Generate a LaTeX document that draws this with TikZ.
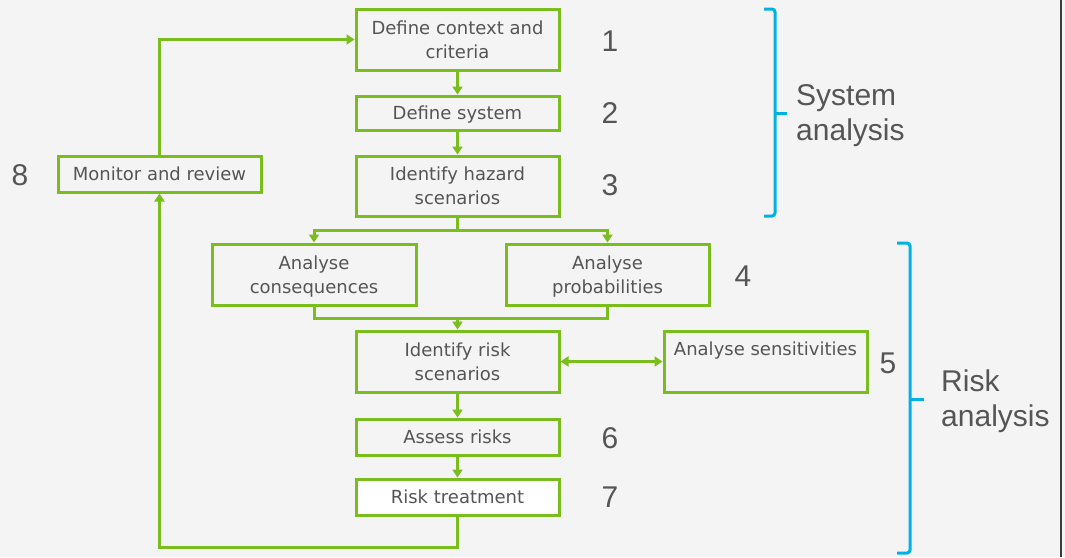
\documentclass[tikz,border=0pt]{standalone}
\usepackage{fontspec}
\setmainfont{Liberation Sans}
\newfontfamily\boxfamily{DejaVu Sans}
\usetikzlibrary{arrows.meta}
\definecolor{grn}{RGB}{122,190,30}
\definecolor{cyn}{RGB}{0,178,228}
\definecolor{bgc}{RGB}{244,244,244}
\definecolor{txt}{RGB}{85,85,85}
\definecolor{edgec}{RGB}{60,60,60}
\tikzset{
  box/.style={draw=grn, line width=3pt, fill=bgc, text=txt, align=center,
    inner sep=0pt, minimum width=203pt, text depth=0pt,
    font=\boxfamily\fontsize{18}{24}\selectfont},
  conn/.style={draw=grn, line width=3pt},
  arr/.style={conn, -{Triangle[width=10pt,length=8pt]}},
  darr/.style={conn, {Triangle[width=10pt,length=8pt]}-{Triangle[width=10pt,length=8pt]}},
  num/.style={text=txt, font=\fontsize{30}{34}\selectfont, inner sep=0pt},
  grp/.style={text=txt, font=\fontsize{30}{35}\selectfont, align=left, inner sep=0pt, anchor=west},
  brace/.style={draw=cyn, line width=3pt, rounded corners=3pt}
}
\begin{document}
\begin{tikzpicture}[x=1pt,y=-1pt]
\fill[bgc] (0,0) rectangle (1065,557);
\useasboundingbox (0,0) rectangle (1065,557);
\draw[edgec, line width=2pt] (1061,0) -- (1061,557);

% boxes
\node[box, minimum height=61pt] (b1) at (457.5,39.5) {Define context and\\criteria};
\node[box, minimum height=34pt] (b2) at (457.5,113) {Define system};
\node[box, minimum height=60pt] (b3) at (457.5,186) {Identify hazard\\scenarios};
\node[box, minimum width=204pt, minimum height=61pt] (cons) at (314,274.5) {Analyse\\consequences};
\node[box, minimum height=61pt] (prob) at (607.5,274.5) {Analyse\\probabilities};
\node[box, minimum height=61pt] (risk) at (457.5,361.5) {Identify risk\\scenarios};
\node[box, minimum height=61pt, text depth=25pt] (sens) at (765.5,361.5) {Analyse sensitivities};
\node[box, minimum height=36pt] (assess) at (457.5,437) {Assess risks};
\node[box, minimum height=36pt, fill=white] (treat) at (457.5,497) {Risk treatment};
\node[box, minimum height=36pt] (mon) at (159.5,174) {Monitor and review};

% connectors
\draw[arr] (b1) -- (b2);
\draw[arr] (b2) -- (b3);
\coordinate (split) at (457.5,230);
\draw[conn] (b3.south) -- (split);
\draw[arr] (split) -| (cons.north);
\draw[arr] (split) -| (prob.north);
\coordinate (merge) at (457.5,318);
\draw[conn] (cons.south) |- (merge) -| (prob.south);
\draw[arr] (merge) -- (risk.north);
\draw[darr] (risk.east) -- (sens.west);
\draw[arr] (risk) -- (assess);
\draw[arr] (assess) -- (treat);
\coordinate (bot) at (457.5,547);
\draw[arr] (treat.south) -- (bot) -| (mon.south);
\draw[arr] (mon.north) |- (b1.west);

% numbers
\node[num] (n1) at (610,41) {1};
\node[num] (n2) at (610,113) {2};
\node[num] (n3) at (610,185) {3};
\node[num] (n4) at (743,276) {4};
\node[num] (n5) at (888,363) {5};
\node[num] (n6) at (610,438) {6};
\node[num] (n7) at (610,497) {7};
\node[num] (n8) at (20,175) {8};

% braces
\draw[brace] (764,9) -- (775,9) -- (775,216) -- (764,216);
\draw[brace, rounded corners=0pt] (775,113) -- (787,113);
\draw[brace] (897,243) -- (910,243) -- (910,553) -- (897,553);
\draw[brace, rounded corners=0pt] (910,399) -- (924,399);

\node[grp] (sys) at (796,116) {System\\analysis};
\node[grp] (ra) at (941,401) {Risk\\analysis};
\end{tikzpicture}
\end{document}
